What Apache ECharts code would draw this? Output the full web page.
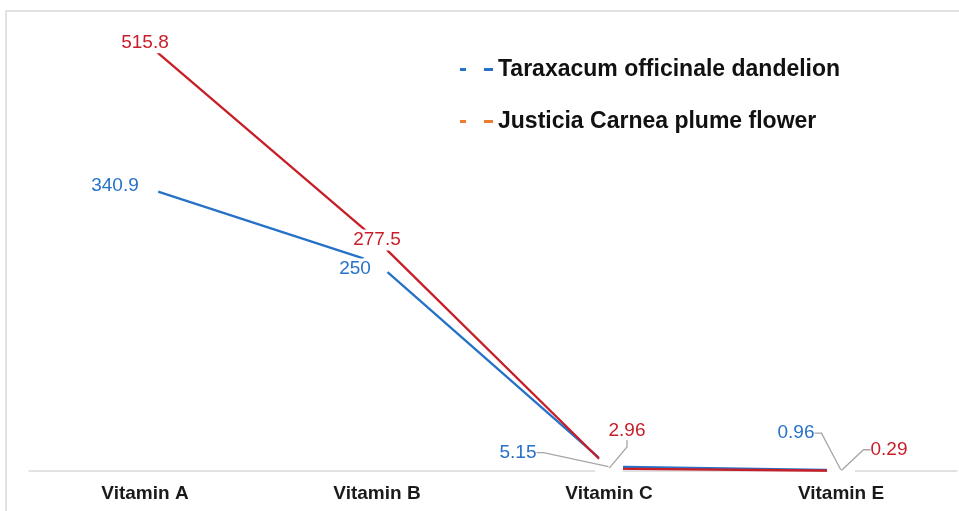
<!DOCTYPE html>
<html>
<head>
<meta charset="utf-8">
<script src="https://cdn.jsdelivr.net/npm/echarts@6/dist/echarts.min.js"></script>
<style>
  html, body { margin: 0; padding: 0; background: #fff; }
  #chart { width: 959px; height: 511px; }
</style>
</head>
<body>
<div id="chart"></div>
<script>
// data
const vitamins = ['Vitamin A', 'Vitamin B', 'Vitamin C', 'Vitamin E'];
const dandelion = [340.9, 250, 5.15, 0.96];
const plumeFlower = [515.8, 277.5, 2.96, 0.29];
const seriesNames = ['Taraxacum officinale dandelion', 'Justicia Carnea plume flower'];

const BLUE = '#2672c8';
const RED = '#c81e28';
const ORANGE = '#ed7d31';

// label offsets (from the point) for the two big categories
const blueOffsets = [[-30, -2], [-22, 6]];
const redOffsets = [[0, 1], [0, 0]];
// callout offsets for the small values (C and E)
const blueCallout = { 2: [-91, -14], 3: [-45, -37] };
const redCallout = { 2: [18, -38], 3: [48, -21] };

const chart = echarts.init(document.getElementById('chart'));

function mainSeries(name, values, color, offsets, z) {
    return {
        name: name,
        type: 'line',
        z: z,
        silent: true,
        symbol: 'circle',
        symbolSize: 28,
        itemStyle: { color: '#fff', borderWidth: 0 },
        lineStyle: { color: color, width: 2.3 },
        data: values.map(function (v, i) {
            return {
                value: v,
                label: { show: i < 2, offset: offsets[i] || [0, 0] }
            };
        }),
        label: {
            position: 'inside',
            color: color,
            fontFamily: 'Liberation Sans, Arial',
            fontSize: 19,
            backgroundColor: '#fff',
            padding: [1, 2]
        }
    };
}

function calloutSeries(values, color, callout, z) {
    return {
        type: 'line',
        z: z,
        silent: true,
        symbol: 'circle',
        symbolSize: 1,
        itemStyle: { color: 'rgba(0,0,0,0)' },
        lineStyle: { opacity: 0 },
        data: values.map(function (v, i) { return callout[i] ? v : '-'; }),
        label: {
            show: true,
            position: 'inside',
            color: color,
            fontFamily: 'Liberation Sans, Arial',
            fontSize: 19
        },
        labelLine: {
            show: true,
            length2: 7,
            lineStyle: { color: '#a6a6a6', width: 1.3 }
        },
        labelLayout: function (p) {
            const o = callout[p.dataIndex] || [0, 0];
            return { dx: o[0], dy: o[1] };
        }
    };
}

chart.setOption({
    animation: false,
    graphic: [{
        type: 'rect',
        shape: { x: 6, y: 11, width: 1200, height: 800 },
        style: { fill: 'none', stroke: '#d9d9d9', lineWidth: 1.5 },
        silent: true
    }],
    legend: {
        orient: 'vertical',
        left: 455,
        top: 53,
        itemGap: 29,
        itemWidth: 33,
        itemHeight: 3,
        icon: 'path://M0,0h6v3h-6z M24,0h9v3h-9z',
        textStyle: {
            fontFamily: 'Liberation Sans, Arial',
            fontWeight: 'bold',
            fontSize: 23,
            lineHeight: 23,
            color: '#111'
        },
        selectedMode: false,
        data: [
            { name: seriesNames[0], itemStyle: { color: BLUE } },
            { name: seriesNames[1], itemStyle: { color: ORANGE } }
        ]
    },
    grid: { left: 29, right: 2, top: 5, bottom: 40 },
    xAxis: {
        type: 'category',
        data: vitamins,
        boundaryGap: true,
        axisLine: { lineStyle: { color: '#d9d9d9', width: 1.5 } },
        axisTick: { show: false },
        axisLabel: {
            margin: 13,
            color: '#1a1a1a',
            fontFamily: 'Liberation Sans, Arial',
            fontWeight: 'bold',
            fontSize: 19
        }
    },
    yAxis: {
        type: 'value',
        min: 0,
        max: 560,
        show: false,
        splitLine: { show: false }
    },
    series: [
        mainSeries(seriesNames[0], dandelion, BLUE, blueOffsets, 2),
        mainSeries(seriesNames[1], plumeFlower, RED, redOffsets, 3),
        calloutSeries(dandelion, BLUE, blueCallout, 4),
        calloutSeries(plumeFlower, RED, redCallout, 4)
    ]
});
</script>
</body>
</html>
